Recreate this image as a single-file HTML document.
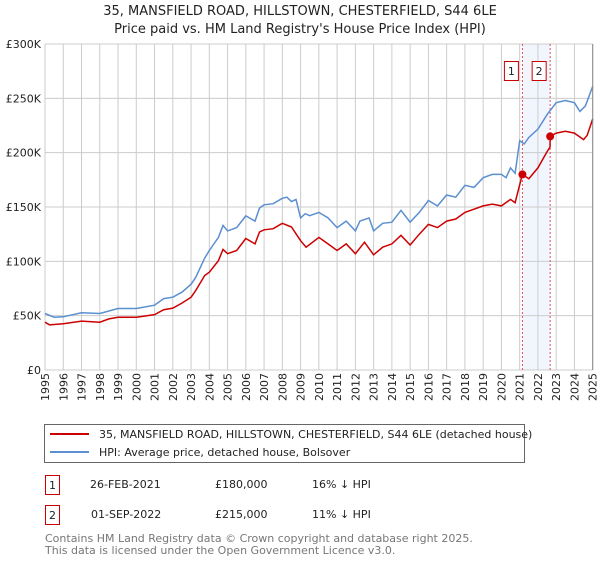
<!DOCTYPE html>
<html><head><meta charset="utf-8"><style>
body{margin:0;background:#fff;font-family:"DejaVu Sans","Liberation Sans",sans-serif;}
svg text{font-family:"DejaVu Sans","Liberation Sans",sans-serif;}
</style></head><body>
<svg id="chart" width="600" height="560" xmlns="http://www.w3.org/2000/svg">
<text x="300" y="15" text-anchor="middle" font-size="13" fill="#222">35, MANSFIELD ROAD, HILLSTOWN, CHESTERFIELD, S44 6LE</text>
<text x="300" y="33" text-anchor="middle" font-size="13" fill="#222">Price paid vs. HM Land Registry's House Price Index (HPI)</text>
<g id="grid"></g>
<g id="marks"></g>
<rect x="44.5" y="424.5" width="480" height="38" fill="#fff" stroke="#666"/>
<line x1="50" y1="434" x2="89" y2="434" stroke="#cc0000" stroke-width="2"/>
<text x="99" y="438" font-size="11" fill="#222">35, MANSFIELD ROAD, HILLSTOWN, CHESTERFIELD, S44 6LE (detached house)</text>
<line x1="50" y1="452" x2="89" y2="452" stroke="#5b8fd0" stroke-width="2"/>
<text x="99" y="456" font-size="11" fill="#222">HPI: Average price, detached house, Bolsover</text>
<g font-size="11" fill="#222">
<rect x="45.5" y="475.5" width="14" height="19" fill="#fff" stroke="#cc0000"/>
<text x="52.5" y="489" text-anchor="middle">1</text>
<text x="90" y="488">26-FEB-2021</text><text x="215" y="488">£180,000</text><text x="312" y="488">16% ↓ HPI</text>
</g>
<g font-size="11" fill="#222">
<rect x="45.5" y="505.5" width="14" height="19" fill="#fff" stroke="#cc0000"/>
<text x="52.5" y="519" text-anchor="middle">2</text>
<text x="91" y="518">01-SEP-2022</text><text x="215" y="518">£215,000</text><text x="312" y="518">11% ↓ HPI</text>
</g>
<text x="45" y="542" font-size="11" fill="#777">Contains HM Land Registry data © Crown copyright and database right 2025.</text>
<text x="45" y="554" font-size="11" fill="#777">This data is licensed under the Open Government Licence v3.0.</text>
</svg>
<script>
const yTicks=[0,50000,100000,150000,200000,250000,300000];
const yTickLabels=["£0","£50K","£100K","£150K","£200K","£250K","£300K"];
const years=[1995,1996,1997,1998,1999,2000,2001,2002,2003,2004,2005,2006,2007,2008,2009,2010,2011,2012,2013,2014,2015,2016,2017,2018,2019,2020,2021,2022,2023,2024,2025];
const hpiT=[1995,1995.5,1996,1997,1998,1999,2000,2001,2001.5,2002,2002.5,2003,2003.25,2003.75,2004,2004.5,2004.75,2005,2005.5,2006,2006.5,2006.75,2007,2007.5,2008,2008.25,2008.5,2008.75,2009,2009.25,2009.5,2010,2010.5,2011,2011.5,2012,2012.25,2012.75,2013,2013.5,2014,2014.5,2015,2015.5,2016,2016.5,2017,2017.5,2018,2018.5,2019,2019.5,2020,2020.25,2020.5,2020.75,2021,2021.25,2021.5,2022,2022.5,2023,2023.5,2024,2024.3,2024.6,2025];
const hpiV=[52,48.6,49,52.6,52,56.6,56.6,59.6,65.7,67,71.6,79,85,103,110,122,133,128,131,141.8,137,149,152,153,158,159,155,157,140,143.8,142,145,140,131,137,128,137,140,128,135,136,147,136,145,156,151,161,159,170,168,177,180,180,177,186,181,211,208,214,221.6,235,246,248,246,238,243,261];
const ppT=[1995,1995.25,1996,1997,1998,1998.5,1999,2000,2001,2001.5,2002,2002.5,2003,2003.25,2003.75,2004,2004.5,2004.75,2005,2005.5,2006,2006.5,2006.75,2007,2007.5,2008,2008.5,2009,2009.3,2010,2010.5,2011,2011.5,2012,2012.5,2013,2013.5,2014,2014.5,2015,2015.5,2016,2016.5,2017,2017.5,2018,2018.5,2019,2019.5,2020,2020.5,2020.75,2021.1,2021.15,2021.5,2022,2022.5,2022.66,2022.67,2023,2023.5,2024,2024.5,2024.7,2025];
const ppV=[44,41.5,42.5,45,44,47,48.5,48.5,51,55.5,57,61.6,67,73,87,90,100.6,111,107,110,121,116,127,129,130,135,131.6,119,113,122,116,110,116,107,117.6,106,113,116,124,115,125,134,131,137,139,145,148,151,152.6,151,157,154,177,180,176,186,201,205,215,218,219.7,218,212,216,231];
const saleT=[2021.15,2022.67];
const saleV=[180,215];
const saleLabels=["1","2"];
const L=45,R=592.7,T=44,B=370;
const xs=t=>L+(t-1995)*(R-L)/30;
const ys=v=>B-v*(B-T)/300000;
const NS="http://www.w3.org/2000/svg";
function mk(tag,attrs,parent,txt){const e=document.createElementNS(NS,tag);for(const k in attrs)e.setAttribute(k,attrs[k]);if(txt!==undefined)e.textContent=txt;parent.appendChild(e);return e;}
const grid=document.getElementById('grid'),marks=document.getElementById('marks');
const sh=mk('rect',{x:xs(saleT[0]),y:T,width:xs(saleT[1])-xs(saleT[0]),height:B-T,fill:'#eef3fc',opacity:0.8},grid);


yTicks.forEach((v,i)=>{
 const l=mk('line',{x1:L,x2:R,y1:ys(v),y2:ys(v),stroke:'#cccccc'},grid);
 
 
 const t=mk('text',{x:L-4,y:ys(v)+4,'text-anchor':'end','font-size':'11',fill:'#222'},grid,yTickLabels[i]);
 
 
});
years.forEach(y=>{
 const l=mk('line',{x1:xs(y),x2:xs(y),y1:T,y2:B,stroke:'#cccccc'},grid);
 
 
 const t=mk('text',{x:0,y:0,'font-size':'11',fill:'#222','text-anchor':'end',transform:`translate(${xs(y)+4},373) rotate(-90)`},grid,String(y));
 
 
});
saleT.forEach((t,i)=>{
 const l=mk('line',{x1:xs(t),x2:xs(t),y1:T,y2:B,stroke:'#e05050','stroke-dasharray':'2,2','stroke-width':1},marks);
 
 
});
const pts=(tt,vv)=>tt.map((t,i)=>xs(t).toFixed(1)+','+ys(vv[i]*1000).toFixed(1)).join(' ');
const hp=mk('polyline',{points:pts(hpiT,hpiV),fill:'none',stroke:'#5b8fd0','stroke-width':1.5},marks);


const pp=mk('polyline',{points:pts(ppT,ppV),fill:'none',stroke:'#cc0000','stroke-width':1.5},marks);


saleT.forEach((t,i)=>{
 const c=mk('circle',{cx:xs(t),cy:ys(saleV[i]*1000),r:4,fill:'#cc0000'},marks);
 
 
 const bx=xs(t)-11;
 const r=mk('rect',{x:bx-7,y:61.5,width:14,height:19,fill:'#fff',stroke:'#cc0000'},marks);
 
 
 const tx=mk('text',{x:bx,y:75,'text-anchor':'middle','font-size':'11',fill:'#222'},marks,saleLabels[i]);
 
 
});
const ax=mk('line',{x1:R,x2:R,y1:T,y2:B,stroke:'#888'},marks);


</script>
</body></html>
